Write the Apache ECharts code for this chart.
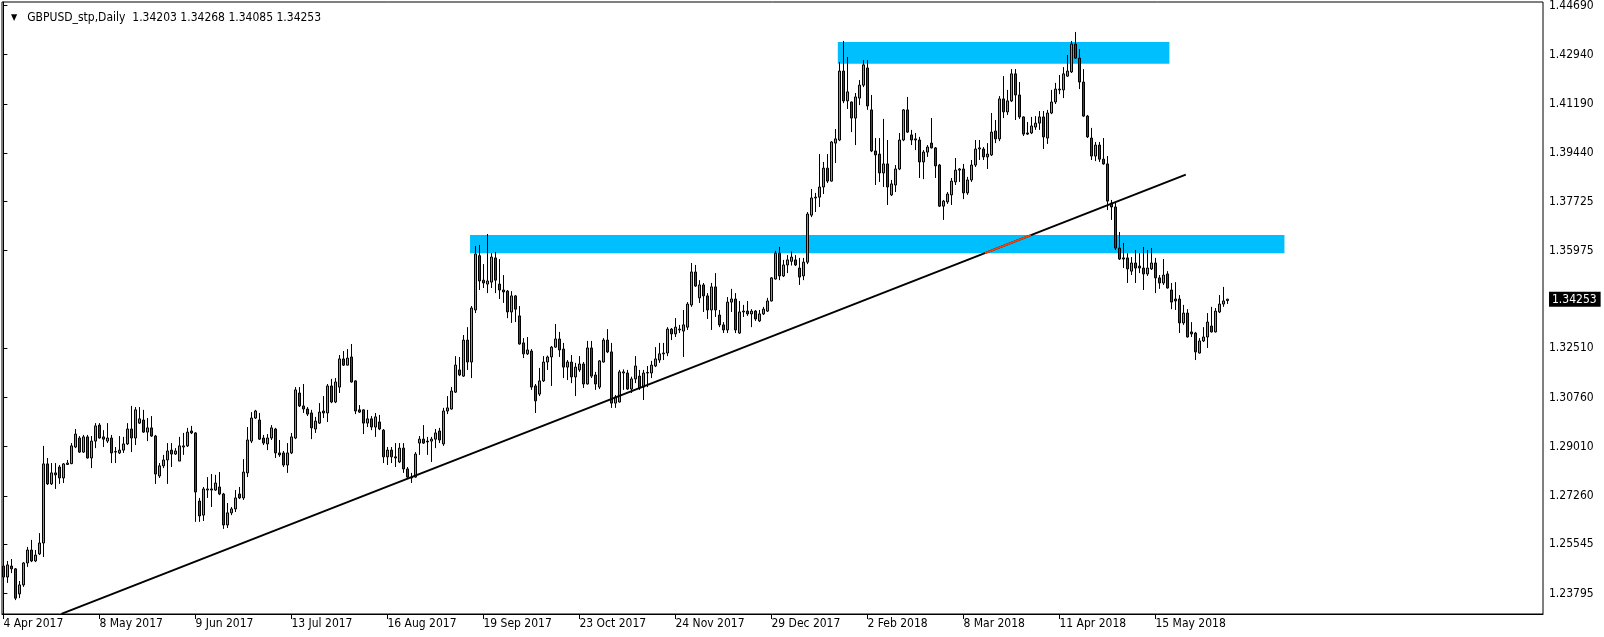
<!DOCTYPE html>
<html>
<head>
<meta charset="utf-8">
<script src="https://cdn.jsdelivr.net/npm/echarts@6/dist/echarts.min.js"></script>
<style>
html,body{margin:0;padding:0;background:#ffffff;}
#chart{width:1604px;height:637px;}
</style>
</head>
<body>
<div id="chart"></div>
<script>
// ---------------- data ----------------
const symbolTitle = 'GBPUSD_stp,Daily';
const headerOHLC = ['1.34203', '1.34268', '1.34085', '1.34253'];
const firstBarDate = [2017, 3, 4];              // 4 Apr 2017 (year, monthIndex, day)
const skippedDays = ['2017-12-25', '2018-01-01']; // days without a bar
const dateTickIndex = [0, 24, 48, 72, 96, 120, 144, 168, 192, 216, 240, 264, 288];

const open = [
1.2477,1.2438,1.2477,1.2467,1.2378,1.2410,1.2488,1.2534,1.2495,1.2520,
1.2559,1.2840,1.2769,1.2808,1.2829,1.2790,1.2838,1.2841,1.2900,1.2932,
1.2882,1.2936,1.2861,1.2921,1.2978,1.2936,1.2921,1.2932,1.2882,1.2879,
1.2889,1.2911,1.2964,1.2932,1.2985,1.2996,1.2953,1.2968,1.2939,1.2797,
1.2833,1.2854,1.2889,1.2875,1.2850,1.2900,1.2904,1.2957,1.2950,1.2708,
1.2658,1.2747,1.2751,1.2747,1.2758,1.2733,1.2623,1.2666,1.2680,1.2733,
1.2719,1.2808,1.2921,1.3003,1.2996,1.2932,1.2911,1.2932,1.2964,1.2879,
1.2879,1.2836,1.2879,1.2932,1.3092,1.3046,1.3035,1.3021,1.2964,1.2985,
1.3028,1.3021,1.3117,1.3060,1.3113,1.3213,1.3191,1.3220,1.3135,1.3032,
1.3032,1.2985,1.3000,1.2971,1.2989,1.2960,1.2865,1.2889,1.2865,1.2847,
1.2896,1.2822,1.2793,1.2793,1.2914,1.2928,1.2921,1.2921,1.2928,1.2957,
1.2911,1.3028,1.3035,1.3095,1.3174,1.3152,1.3280,1.3202,1.3387,1.3580,
1.3493,1.3479,1.3486,1.3572,1.3479,1.3458,1.3454,1.3380,1.3437,1.3366,
1.3270,1.3231,1.3241,1.3117,1.3088,1.3135,1.3202,1.3220,1.3255,1.3284,
1.3248,1.3184,1.3202,1.3149,1.3174,1.3195,1.3124,1.3252,1.3156,1.3113,
1.3202,1.3280,1.3238,1.3056,1.3060,1.3163,1.3163,1.3106,1.3142,1.3152,
1.3113,1.3163,1.3163,1.3188,1.3209,1.3231,1.3234,1.3319,1.3302,1.3316,
1.3312,1.3326,1.3405,1.3522,1.3430,1.3476,1.3437,1.3387,1.3469,1.3369,
1.3334,1.3316,1.3415,1.3426,1.3305,1.3380,1.3383,1.3373,1.3383,1.3348,
1.3373,1.3383,1.3419,1.3497,1.3589,1.3508,1.3547,1.3560,1.3565,1.3536,
1.3508,1.3557,1.3724,1.3785,1.3788,1.3824,1.3891,1.3845,1.3980,1.3991,
1.4236,1.4130,1.4126,1.4069,1.4140,1.4186,1.4247,1.4098,1.3952,1.3941,
1.3874,1.3906,1.3796,1.3831,1.3888,1.3991,1.4098,1.4009,1.3995,1.3991,
1.3913,1.3948,1.3980,1.3963,1.3902,1.3756,1.3771,1.3796,1.3842,1.3884,
1.3888,1.3803,1.3849,1.3902,1.3959,1.3959,1.3931,1.3938,1.4023,1.3995,
1.4137,1.4091,1.4130,1.4226,1.4151,1.4073,1.4016,1.4016,1.4037,1.4051,
1.4073,1.3998,1.4087,1.4126,1.4169,1.4169,1.4218,1.4233,1.4332,1.4282,
1.4197,1.4076,1.3998,1.3934,1.3973,1.3923,1.3906,1.3767,1.3753,1.3607,
1.3572,1.3572,1.3525,1.3554,1.3543,1.3536,1.3515,1.3533,1.3554,1.3501,
1.3483,1.3515,1.3458,1.3426,1.3426,1.3341,1.3376,1.3309,1.3305,1.3234,
1.3277,1.3291,1.3330,1.3309,1.3380,1.3408,1.34203
];
const high = [
1.2491,1.2495,1.2502,1.2470,1.2424,1.2491,1.2545,1.2570,1.2534,1.2594,
1.2904,1.2861,1.2843,1.2843,1.2836,1.2843,1.2854,1.2914,1.2964,1.2939,
1.2943,1.2943,1.2939,1.2985,1.2985,1.2960,1.2985,1.2943,1.2900,1.2939,
1.2936,1.2985,1.3046,1.3042,1.3042,1.3032,1.3003,1.3010,1.2943,1.2843,
1.2872,1.2914,1.2914,1.2896,1.2936,1.2950,1.2968,1.2975,1.2953,1.2719,
1.2758,1.2793,1.2804,1.2801,1.2811,1.2737,1.2701,1.2687,1.2747,1.2758,
1.2857,1.2971,1.3024,1.3032,1.3021,1.2943,1.2946,1.2978,1.2968,1.2925,
1.2886,1.2914,1.2950,1.3113,1.3113,1.3124,1.3042,1.3032,1.3007,1.3056,
1.3081,1.3124,1.3142,1.3145,1.3227,1.3241,1.3248,1.3266,1.3137,1.3049,
1.3034,1.3032,1.3010,1.3021,1.3014,1.2964,1.2900,1.2900,1.2914,1.2914,
1.2914,1.2829,1.2808,1.2882,1.2939,1.2978,1.2936,1.2936,1.2964,1.2968,
1.3039,1.3081,1.3113,1.3223,1.3220,1.3298,1.3326,1.3401,1.3614,1.3618,
1.3550,1.3657,1.3589,1.3593,1.3568,1.3511,1.3458,1.3454,1.3440,1.3401,
1.3287,1.3291,1.3248,1.3124,1.3181,1.3223,1.3225,1.3259,1.3337,1.3309,
1.3270,1.3209,1.3227,1.3199,1.3223,1.3202,1.3277,1.3277,1.3167,1.3209,
1.3287,1.3319,1.3270,1.3085,1.3174,1.3176,1.3174,1.3150,1.3223,1.3174,
1.3174,1.3188,1.3206,1.3255,1.3270,1.3270,1.3326,1.3323,1.3358,1.3334,
1.3387,1.3415,1.3554,1.3547,1.3493,1.3483,1.3447,1.3483,1.3518,1.3387,
1.3344,1.3433,1.3462,1.3447,1.3419,1.3405,1.3419,1.3390,1.3387,1.3387,
1.3398,1.3430,1.3504,1.3597,1.3611,1.3565,1.3582,1.3595,1.3582,1.3572,
1.3572,1.3735,1.3817,1.3803,1.3941,1.3913,1.3941,1.3987,1.4030,1.4268,
1.4343,1.4286,1.4128,1.4158,1.4204,1.4275,1.4275,1.4151,1.3998,1.3998,
1.4066,1.3991,1.3849,1.3902,1.4016,1.4101,1.4144,1.4027,1.4016,1.4002,
1.3955,1.3973,1.4069,1.3966,1.3906,1.3778,1.3806,1.3856,1.3927,1.3891,
1.3906,1.3860,1.3920,1.3991,1.3991,1.3966,1.3980,1.4087,1.4062,1.4147,
1.4218,1.4169,1.4243,1.4243,1.4197,1.4075,1.4055,1.4073,1.4076,1.4094,
1.4094,1.4098,1.4169,1.4194,1.4222,1.4250,1.4293,1.4343,1.4375,1.4314,
1.4243,1.4080,1.4034,1.3984,1.3984,1.3998,1.3934,1.3778,1.3767,1.3664,
1.3625,1.3589,1.3575,1.3600,1.3589,1.3611,1.3600,1.3607,1.3572,1.3511,
1.3568,1.3525,1.3483,1.3486,1.3440,1.3405,1.3390,1.3344,1.3309,1.3287,
1.3326,1.3376,1.3398,1.3394,1.3440,1.3469,1.34268
];
const low = [
1.2417,1.2417,1.2452,1.2356,1.2363,1.2403,1.2474,1.2491,1.2491,1.2516,
1.2509,1.2765,1.2765,1.2751,1.2769,1.2772,1.2836,1.2839,1.2896,1.2879,
1.2879,1.2859,1.2825,1.2896,1.2930,1.2900,1.2914,1.2843,1.2843,1.2875,
1.2879,1.2907,1.2882,1.2907,1.2982,1.2950,1.2921,1.2936,1.2769,1.2790,
1.2825,1.2769,1.2829,1.2872,1.2850,1.2872,1.2900,1.2946,1.2634,1.2634,
1.2637,1.2719,1.2687,1.2744,1.2729,1.2609,1.2612,1.2658,1.2669,1.2715,
1.2712,1.2793,1.2914,1.3000,1.2925,1.2907,1.2889,1.2925,1.2861,1.2865,
1.2829,1.2808,1.2875,1.2928,1.3042,1.3021,1.3010,1.2928,1.2950,1.2982,
1.3003,1.2989,1.3056,1.3056,1.3092,1.3188,1.3190,1.3129,1.3017,1.3021,
1.2946,1.2971,1.2960,1.2936,1.2960,1.2843,1.2836,1.2843,1.2829,1.2843,
1.2808,1.2790,1.2772,1.2791,1.2872,1.2911,1.2872,1.2847,1.2896,1.2914,
1.2904,1.3017,1.3033,1.3092,1.3152,1.3149,1.3174,1.3145,1.3376,1.3458,
1.3465,1.3447,1.3465,1.3447,1.3426,1.3412,1.3358,1.3341,1.3344,1.3264,
1.3216,1.3227,1.3103,1.3021,1.3081,1.3131,1.3174,1.3117,1.3252,1.3220,
1.3145,1.3138,1.3127,1.3081,1.3167,1.3110,1.3122,1.3145,1.3103,1.3106,
1.3200,1.3234,1.3039,1.3039,1.3058,1.3103,1.3103,1.3092,1.3127,1.3103,
1.3067,1.3113,1.3145,1.3184,1.3199,1.3209,1.3223,1.3280,1.3291,1.3305,
1.3220,1.3316,1.3398,1.3469,1.3412,1.3380,1.3355,1.3316,1.3362,1.3326,
1.3305,1.3305,1.3380,1.3305,1.3302,1.3362,1.3366,1.3326,1.3348,1.3344,
1.3369,1.3380,1.3417,1.3495,1.3493,1.3504,1.3518,1.3545,1.3543,1.3476,
1.3493,1.3550,1.3717,1.3735,1.3753,1.3799,1.3838,1.3843,1.3909,1.3987,
1.4122,1.4101,1.4019,1.3973,1.4115,1.4179,1.4098,1.3948,1.3831,1.3842,
1.3824,1.3760,1.3792,1.3806,1.3884,1.3987,1.4016,1.3973,1.3955,1.3856,
1.3852,1.3931,1.3961,1.3856,1.3753,1.3707,1.3764,1.3760,1.3831,1.3842,
1.3781,1.3796,1.3842,1.3895,1.3920,1.3920,1.3888,1.3934,1.3980,1.3987,
1.4069,1.4080,1.4126,1.4062,1.4066,1.4005,1.4009,1.4012,1.4027,1.4027,
1.3959,1.3977,1.4083,1.4119,1.4154,1.4140,1.4215,1.4229,1.4279,1.4172,
1.4073,1.3998,1.3920,1.3916,1.3913,1.3903,1.3742,1.3707,1.3600,1.3565,
1.3536,1.3483,1.3511,1.3483,1.3518,1.3458,1.3508,1.3529,1.3447,1.3462,
1.3476,1.3463,1.3390,1.3387,1.3305,1.3334,1.3289,1.3291,1.3209,1.3232,
1.3273,1.3252,1.3307,1.3307,1.3376,1.3398,1.34085
];
const close = [
1.2438,1.2481,1.2467,1.2363,1.2410,1.2488,1.2534,1.2495,1.2516,1.2559,
1.2840,1.2769,1.2808,1.2801,1.2790,1.2840,1.2843,1.2904,1.2946,1.2882,
1.2936,1.2861,1.2921,1.2975,1.2932,1.2928,1.2932,1.2879,1.2884,1.2889,
1.2911,1.2964,1.2932,1.3032,1.3000,1.2953,1.2968,1.2939,1.2804,1.2833,
1.2854,1.2886,1.2875,1.2886,1.2904,1.2904,1.2953,1.2950,1.2740,1.2655,
1.2751,1.2751,1.2747,1.2772,1.2733,1.2623,1.2666,1.2680,1.2719,1.2719,
1.2811,1.2925,1.3003,1.3028,1.2928,1.2914,1.2932,1.2968,1.2879,1.2872,
1.2836,1.2879,1.2936,1.3103,1.3046,1.3035,1.3017,1.2968,1.2992,1.3024,
1.3021,1.3117,1.3060,1.3131,1.3213,1.3191,1.3216,1.3131,1.3028,1.3024,
1.2985,1.3000,1.2971,1.3007,1.2964,1.2865,1.2889,1.2865,1.2861,1.2896,
1.2822,1.2793,1.2790,1.2875,1.2928,1.2914,1.2918,1.2928,1.2950,1.2925,
1.3028,1.3039,1.3099,1.3191,1.3156,1.3280,1.3202,1.3394,1.3586,1.3490,
1.3483,1.3490,1.3575,1.3493,1.3458,1.3451,1.3380,1.3437,1.3390,1.3266,
1.3231,1.3245,1.3113,1.3064,1.3135,1.3202,1.3220,1.3255,1.3284,1.3245,
1.3184,1.3202,1.3149,1.3184,1.3195,1.3124,1.3252,1.3152,1.3124,1.3206,
1.3280,1.3238,1.3056,1.3078,1.3167,1.3167,1.3106,1.3142,1.3188,1.3110,
1.3163,1.3165,1.3191,1.3213,1.3231,1.3234,1.3319,1.3302,1.3326,1.3319,
1.3334,1.3408,1.3522,1.3472,1.3476,1.3437,1.3387,1.3469,1.3387,1.3334,
1.3316,1.3415,1.3426,1.3316,1.3380,1.3383,1.3373,1.3383,1.3355,1.3373,
1.3390,1.3419,1.3501,1.3589,1.3508,1.3547,1.3565,1.3575,1.3547,1.3504,
1.3557,1.3728,1.3785,1.3788,1.3824,1.3891,1.3845,1.3984,1.3995,1.4236,
1.4130,1.4162,1.4069,1.4144,1.4186,1.4258,1.4112,1.3952,1.3938,1.3874,
1.3906,1.3824,1.3835,1.3888,1.3991,1.4098,1.4019,1.3991,1.3991,1.3913,
1.3948,1.3966,1.3963,1.3899,1.3756,1.3774,1.3799,1.3845,1.3884,1.3888,
1.3803,1.3849,1.3902,1.3959,1.3963,1.3931,1.3941,1.4019,1.3995,1.4137,
1.4091,1.4130,1.4226,1.4151,1.4073,1.4012,1.4012,1.4041,1.4051,1.4073,
1.4002,1.4087,1.4126,1.4172,1.4172,1.4226,1.4236,1.4332,1.4282,1.4197,
1.4076,1.4002,1.3934,1.3973,1.3923,1.3906,1.3774,1.3753,1.3607,1.3568,
1.3568,1.3533,1.3554,1.3536,1.3536,1.3515,1.3536,1.3554,1.3501,1.3483,
1.3511,1.3465,1.3415,1.3419,1.3341,1.3376,1.3291,1.3302,1.3238,1.3277,
1.3291,1.3344,1.3309,1.3383,1.3408,1.3419,1.34253
];

const priceTicks = [1.23795, 1.25545, 1.27260, 1.29010, 1.30760, 1.32510,
                    1.35975, 1.37725, 1.39440, 1.41190, 1.42940, 1.44690];
const lastPrice = 1.34253;

// supply / demand zones: [fromBar, toBar, topPrice, bottomPrice]
const zoneLower = [116.66, 320.26, 1.3653, 1.3589];
const zoneUpper = [208.6, 291.5, 1.4339, 1.4262];
// trend line anchors: [bar, price]
const trendStart = [14.5, 1.2307];
const trendEnd = [295.6, 1.3868];

// ---------------- build ----------------
const MONTHS = ['Jan','Feb','Mar','Apr','May','Jun','Jul','Aug','Sep','Oct','Nov','Dec'];
function buildDates(n) {
  const out = [];
  const d = new Date(Date.UTC(firstBarDate[0], firstBarDate[1], firstBarDate[2]));
  while (out.length < n) {
    const wd = d.getUTCDay();
    const iso = d.toISOString().slice(0, 10);
    if (wd !== 0 && wd !== 6 && skippedDays.indexOf(iso) < 0) {
      out.push(d.getUTCDate() + ' ' + MONTHS[d.getUTCMonth()] + ' ' + d.getUTCFullYear());
    }
    d.setUTCDate(d.getUTCDate() + 1);
  }
  return out;
}
const dateLabels = buildDates(open.length);

const candles = open.map((o, i) => [i, o, close[i], low[i], high[i]]);

// part of the trend line that runs inside the lower zone (drawn inverted, orange-red)
function barAtPrice(p) {
  return trendStart[0] + (p - trendStart[1]) * (trendEnd[0] - trendStart[0]) / (trendEnd[1] - trendStart[1]);
}
const insideSeg = [
  [barAtPrice(zoneLower[3]), zoneLower[3]],
  [barAtPrice(zoneLower[2]), zoneLower[2]]
];

const FONT = '"DejaVu Sans Condensed", "DejaVu Sans", sans-serif';

const chart = echarts.init(document.getElementById('chart'), null, {renderer: 'canvas'});
chart.setOption({
  animation: false,
  backgroundColor: '#ffffff',
  title: {
    left: 6, top: 4,
    text: '{tri|▼}  {t|' + symbolTitle + '  ' + headerOHLC.join(' ') + '}',
    textStyle: {
      fontWeight: 'normal',
      rich: {
        tri: {fontSize: 9, color: '#000', fontWeight: 'normal', fontFamily: FONT},
        t: {fontSize: 12, color: '#000', fontWeight: 'normal', fontFamily: FONT}
      }
    }
  },
  grid: {
    left: 2, right: 61, top: 2, bottom: 23,
    show: true, borderColor: '#000', borderWidth: 1, backgroundColor: '#ffffff',
    containLabel: false, outerBoundsMode: 'none'
  },
  xAxis: {
    type: 'value',
    min: -0.35, max: 384.9,
    axisLine: {show: true, lineStyle: {color: '#000', width: 1}},
    axisTick: {show: true, customValues: dateTickIndex, length: 5, lineStyle: {color: '#000'}},
    axisLabel: {
      show: true, customValues: dateTickIndex, margin: 4, align: 'left',
      color: '#000', fontSize: 12, fontFamily: FONT,
      formatter: v => dateLabels[Math.round(v)] || ''
    },
    splitLine: {show: false}
  },
  yAxis: {
    type: 'value', position: 'right',
    min: 1.23066, max: 1.44814,
    axisLine: {show: true, lineStyle: {color: '#000', width: 1}},
    axisTick: {show: true, customValues: priceTicks, length: 4, lineStyle: {color: '#000'}},
    axisLabel: {
      show: true, customValues: priceTicks.concat([lastPrice]), margin: 6,
      color: '#000', fontSize: 12, fontFamily: FONT,
      formatter: v => Math.abs(v - lastPrice) < 1e-9 ? '{cur|' + v.toFixed(5) + '}' : v.toFixed(5),
      rich: {
        cur: {backgroundColor: '#000', color: '#fff', fontSize: 12, fontFamily: FONT, padding: [2, 4, 1, 3]}
      }
    },
    splitLine: {show: false}
  },
  series: [
    {
      type: 'candlestick',
      data: candles,
      barWidth: 3,
      z: 3,
      silent: true,
      itemStyle: {
        color: '#1EE01E', color0: '#E80000',
        borderColor: '#000', borderColor0: '#000', borderColorDoji: '#000',
        borderWidth: 1
      },
      markArea: {
        silent: true,
        itemStyle: {color: '#00BFFF', opacity: 1, borderWidth: 0},
        data: [
          [{xAxis: zoneLower[0], yAxis: zoneLower[2]}, {xAxis: zoneLower[1], yAxis: zoneLower[3]}],
          [{xAxis: zoneUpper[0], yAxis: zoneUpper[2]}, {xAxis: zoneUpper[1], yAxis: zoneUpper[3]}]
        ]
      }
    },
    {
      type: 'line', data: [trendStart, trendEnd], symbol: 'none', silent: true, z: 5,
      lineStyle: {color: '#000', width: 2}
    },
    {
      type: 'line', data: insideSeg, symbol: 'none', silent: true, z: 6,
      lineStyle: {color: '#FF4000', width: 2}
    }
  ]
});
</script>
</body>
</html>
